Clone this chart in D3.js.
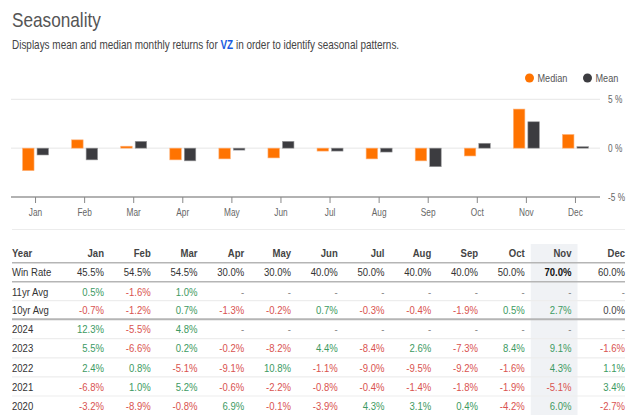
<!DOCTYPE html>
<html><head><meta charset="utf-8">
<script src="https://cdn.jsdelivr.net/npm/d3@7"></script>
<style>
html,body{margin:0;padding:0;background:#fff;}
svg{display:block;font-family:"Liberation Sans",Arial,sans-serif;}
</style></head>
<body><svg id="c" width="640" height="415"></svg>
<script>
const months = ["Jan","Feb","Mar","Apr","May","Jun","Jul","Aug","Sep","Oct","Nov","Dec"];
const medianValues = [-2.3, 0.85, 0.2, -1.2, -1.1, -1.0, -0.3, -1.1, -1.3, -0.8, 4.0, 1.4];
const meanValues = [-0.7, -1.2, 0.7, -1.3, -0.2, 0.7, -0.3, -0.4, -1.9, 0.5, 2.7, 0.15];
const yTicks = [5, 0, -5];
const seriesNames = ["Median", "Mean"];
const seriesColors = ["#ff7300", "#3c3c40"];

const tableHeader = "Year";
const rowLabels = ["Win Rate","11yr Avg","10yr Avg","2024","2023","2022","2021","2020"];
const winRate = [45.5,54.5,54.5,30.0,30.0,40.0,50.0,40.0,40.0,50.0,70.0,60.0];
const avg11 = [0.5,-1.6,1.0,null,null,null,null,null,null,null,null,null];
const avg10 = [-0.7,-1.2,0.7,-1.3,-0.2,0.7,-0.3,-0.4,-1.9,0.5,2.7,0.0];
const y2024 = [12.3,-5.5,4.8,null,null,null,null,null,null,null,null,null];
const y2023 = [5.5,-6.6,0.2,-0.2,-8.2,4.4,-8.4,2.6,-7.3,8.4,9.1,-1.6];
const y2022 = [2.4,0.8,-5.1,-9.1,10.8,-1.1,-9.0,-9.5,-9.2,-1.6,4.3,1.1];
const y2021 = [-6.8,1.0,5.2,-0.6,-2.2,-0.8,-0.4,-1.4,-1.8,-1.9,-5.1,3.4];
const y2020 = [-3.2,-8.9,-0.8,6.9,-0.1,-3.9,4.3,3.1,0.4,-4.2,6.0,-2.7];
const highlightMonth = "Nov";

const SX = 0.83; // horizontal squeeze of the lettering
const svg = d3.select("#c");

function txt(parent, x, y, s, opts){
  opts = opts || {};
  const t = parent.append("text")
    .attr("transform", `translate(${x},${y}) scale(${opts.sx||SX},1)`)
    .attr("font-size", opts.size||11)
    .attr("fill", opts.fill||"#333")
    .attr("font-weight", opts.weight||"normal")
    .attr("text-anchor", opts.anchor||"start");
  if (s!==null) t.text(s);
  return t;
}

// Title & subtitle
txt(svg, 12, 27, "Seasonality", {size:20, fill:"#555", sx:0.86});
const sub = txt(svg, 12, 49, null, {size:12, fill:"#444"});
sub.append("tspan").text("Displays mean and median monthly returns for ");
sub.append("tspan").attr("fill","#1a5ae0").attr("font-weight","bold").text("VZ");
sub.append("tspan").text(" in order to identify seasonal patterns.");

// Legend
const legX = [529.5, 587.5];
seriesNames.forEach((n,i)=>{
  svg.append("circle").attr("cx",legX[i]).attr("cy",78).attr("r",4.5).attr("fill",seriesColors[i]);
  txt(svg, legX[i]+8, 82, n, {size:11, fill:"#555"});
});

// Chart
const x = d3.scaleBand().domain(months).range([11,600]);
const y = d3.scaleLinear().domain([-5,5]).range([197,99.3]);

const g = svg.append("g");
g.selectAll("line.grid").data(yTicks.filter(t=>t!==-5)).join("line")
  .attr("x1",11).attr("x2",600).attr("y1",d=>y(d)).attr("y2",d=>y(d))
  .attr("stroke","#e6e6e6").attr("stroke-width",1);

const bw = 11.5, gap = 1.5;
const series = [medianValues, meanValues];
series.forEach((vals,si)=>{
  g.selectAll("rect.s"+si).data(months).join("rect")
    .attr("x",d=> x(d)+x.bandwidth()/2 + (si===0 ? -gap-bw : gap))
    .attr("width",bw)
    .attr("y",(d,i)=> y(Math.max(0,vals[i])))
    .attr("height",(d,i)=> Math.abs(y(vals[i])-y(0)))
    .attr("fill",seriesColors[si])
    .attr("stroke", si===0 ? "#ffb27a" : "#9a9a9c").attr("stroke-width",0.6);
});

const xAxis = d3.axisBottom(x).tickSize(6).tickPadding(6);
const ax = g.append("g").attr("transform","translate(0,197)").call(xAxis);
ax.select(".domain").attr("stroke","#999").attr("stroke-width",1.5).attr("d","M11,0H600");
ax.selectAll(".tick line").attr("stroke","#888");
ax.selectAll(".tick text").attr("fill","#666").attr("font-size",10)
  .attr("font-family","'Liberation Sans',Arial,sans-serif")
  .attr("transform",`scale(${SX},1)`);

const yAxis = d3.axisRight(y).tickValues(yTicks).tickSize(0).tickPadding(0).tickFormat(d=>d+" %");
const ay = g.append("g").attr("transform","translate(608,0)").call(yAxis);
ay.select(".domain").remove();
ay.selectAll(".tick text").attr("fill","#666").attr("font-size",10)
  .attr("font-family","'Liberation Sans',Arial,sans-serif")
  .attr("transform",`scale(${SX},1)`);

svg.append("line").attr("x1",12).attr("x2",625).attr("y1",229.5).attr("y2",229.5)
  .attr("stroke","#ececec").attr("stroke-width",1.2);

// Table
const rows = [winRate, avg11, avg10, y2024, y2023, y2022, y2021, y2020];
const colStart = 63.25, colW = 46.75;
const colRight = (i)=> i===11 ? 625 : colStart + colW*(i+1) - 6;
const rowY = [253.3,272.3,291.5,310.3,329.3,348.3,367.5,386.5,405.7];
const hi = months.indexOf(highlightMonth);
svg.append("rect").attr("x",colStart+colW*hi).attr("y",244).attr("width",colW).attr("height",175)
  .attr("fill","#f0f2f5");

const lineYs = [262.7,281.7,300.7,319.3,338.7,357.8,376.9,396];
lineYs.forEach((ly,i)=>{
  const strong = (i===0||i===1||i===3);
  svg.append("line").attr("x1",12).attr("x2",625).attr("y1",ly).attr("y2",ly)
    .attr("stroke", strong ? "#b5b5b5" : "#ededed").attr("stroke-width", strong? (i===3?2:1.5) : 1.2);
});

const tf = 11.5;
txt(svg, 12, rowY[0]+4, tableHeader, {size:tf, weight:"bold", fill:"#444"});
months.forEach((m,i)=>{
  txt(svg, colRight(i), rowY[0]+4, m, {size:tf, weight:"bold", fill:"#444", anchor:"end"});
});
rowLabels.forEach((lab,r)=>{
  const yy = rowY[r+1]+4;
  txt(svg, 12, yy, lab, {size:tf, fill:"#333"});
  rows[r].forEach((v,i)=>{
    let s, col, fw = "normal";
    if (v===null){ s="-"; col="#888"; }
    else {
      s = v.toFixed(1)+"%";
      if (r===0){ col="#333"; if (months[i]===highlightMonth){ fw="bold"; col="#111"; } }
      else col = v>0 ? "#3d9a62" : (v<0 ? "#d9534f" : "#444");
    }
    txt(svg, colRight(i), yy, s, {size:tf, weight:fw, fill:col, anchor:"end"});
  });
});
</script></body></html>
